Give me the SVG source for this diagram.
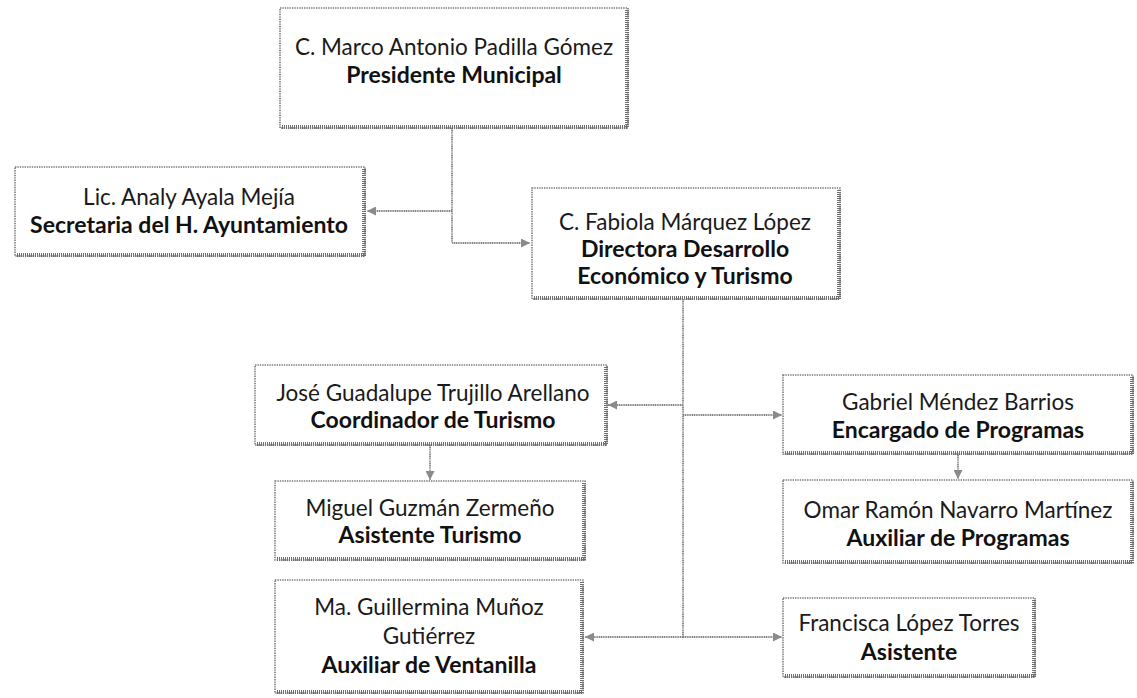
<svg xmlns="http://www.w3.org/2000/svg" width="1137" height="698" viewBox="0 0 1137 698">
<style>
  .box { fill: #ffffff; stroke: #7a7a7a; stroke-width: 1.6; stroke-dasharray: 1.4 1; }
  .shade { fill: none; stroke: #6e6e6e; stroke-width: 4; stroke-dasharray: 1 1; }
  .name { font-family: Lato, "Liberation Sans", sans-serif; font-size: 22.5px; fill: #1a1a1a; text-anchor: middle; }
  .role { font-family: Lato, "Liberation Sans", sans-serif; font-size: 23px; font-weight: bold; fill: #111; text-anchor: middle; }
  .conn { fill: none; stroke: #858585; stroke-width: 1.8; stroke-dasharray: 1.2 0.6; }
</style>
<defs>
  <marker id="arr" viewBox="0 0 10 10" refX="10" refY="5" markerWidth="9" markerHeight="9" orient="auto" markerUnits="userSpaceOnUse">
    <path d="M0,0 L10,5 L0,10 Z" fill="#8a8a8a"/>
  </marker>
</defs>
<rect width="1137" height="698" fill="#ffffff"/>

<g id="connectors">
  <path class="conn" d="M452,128 V243 H530" marker-end="url(#arr)"/>
  <path class="conn" d="M452,211 H367" marker-end="url(#arr)"/>
  <path class="conn" d="M683,299 V637"/>
  <path class="conn" d="M683,405 H608" marker-end="url(#arr)"/>
  <path class="conn" d="M683,415 H782" marker-end="url(#arr)"/>
  <path class="conn" d="M683,637 H585" marker-end="url(#arr)"/>
  <path class="conn" d="M683,637 H782" marker-end="url(#arr)"/>
  <path class="conn" d="M430,445 V480" marker-end="url(#arr)"/>
  <path class="conn" d="M958,455 V479" marker-end="url(#arr)"/>
</g>

<g id="presidente">
  <rect class="box" x="280" y="8" width="348" height="120"/>
  <path class="shade" d="M627,10 V128 M282,127 H627"/>
  <text class="name" x="454" y="55">C. Marco Antonio Padilla Gómez</text>
  <text class="role" x="454" y="83">Presidente Municipal</text>
</g>

<g id="secretaria">
  <rect class="box" x="15" y="167" width="350" height="89"/>
  <path class="shade" d="M364,169 V256 M17,255 H364"/>
  <text class="name" x="189" y="205">Lic. Analy Ayala Mejía</text>
  <text class="role" x="189" y="233">Secretaria del H. Ayuntamiento</text>
</g>

<g id="directora">
  <rect class="box" x="532" y="188" width="308" height="111"/>
  <path class="shade" d="M839,190 V299 M534,298 H839"/>
  <text class="name" x="685" y="230">C. Fabiola Márquez López</text>
  <text class="role" x="685" y="257">Directora Desarrollo</text>
  <text class="role" x="685" y="284">Económico y Turismo</text>
</g>

<g id="coordinador">
  <rect class="box" x="255" y="365" width="352" height="80"/>
  <path class="shade" d="M606,367 V445 M257,444 H606"/>
  <text class="name" x="433" y="401">José Guadalupe Trujillo Arellano</text>
  <text class="role" x="433" y="428">Coordinador de Turismo</text>
</g>

<g id="encargado">
  <rect class="box" x="783" y="375" width="350" height="79"/>
  <path class="shade" d="M1132,377 V454 M785,453 H1132"/>
  <text class="name" x="958" y="410">Gabriel Méndez Barrios</text>
  <text class="role" x="958" y="438">Encargado de Programas</text>
</g>

<g id="asistente-turismo">
  <rect class="box" x="275" y="481" width="310" height="79"/>
  <path class="shade" d="M584,483 V560 M277,559 H584"/>
  <text class="name" x="430" y="516">Miguel Guzmán Zermeño</text>
  <text class="role" x="430" y="543">Asistente Turismo</text>
</g>

<g id="auxiliar-programas">
  <rect class="box" x="783" y="480" width="350" height="83"/>
  <path class="shade" d="M1132,482 V563 M785,562 H1132"/>
  <text class="name" x="958" y="518">Omar Ramón Navarro Martínez</text>
  <text class="role" x="958" y="546">Auxiliar de Programas</text>
</g>

<g id="auxiliar-ventanilla">
  <rect class="box" x="275" y="580" width="308" height="113"/>
  <path class="shade" d="M582,582 V693 M277,692 H582"/>
  <text class="name" x="429" y="615">Ma. Guillermina Muñoz</text>
  <text class="name" x="429" y="644">Gutiérrez</text>
  <text class="role" x="429" y="673">Auxiliar de Ventanilla</text>
</g>

<g id="asistente">
  <rect class="box" x="783" y="598" width="252" height="79"/>
  <path class="shade" d="M1034,600 V677 M785,676 H1034"/>
  <text class="name" x="909" y="631">Francisca López Torres</text>
  <text class="role" x="909" y="660">Asistente</text>
</g>
</svg>
